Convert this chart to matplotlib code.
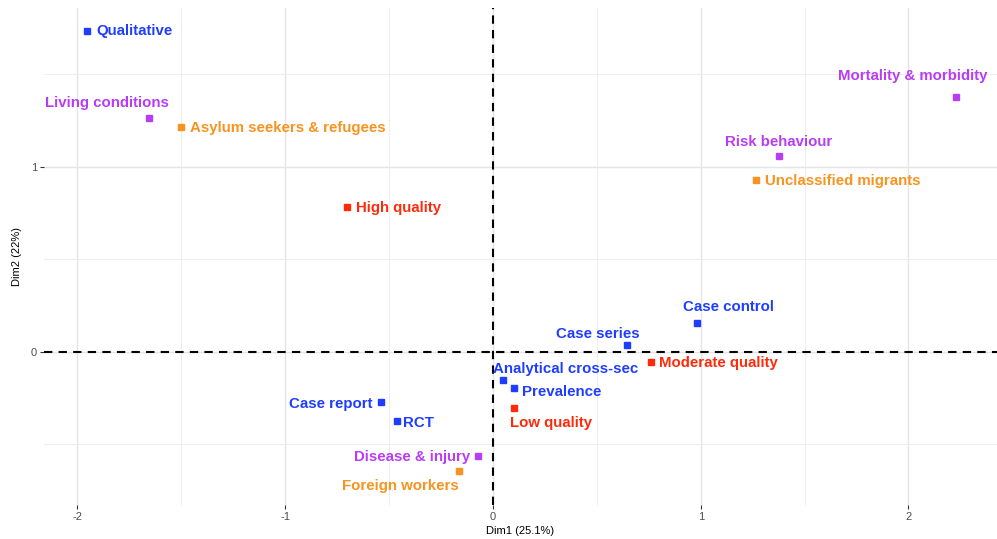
import matplotlib
matplotlib.use("Agg")
import matplotlib.pyplot as plt

plt.rcParams['font.family'] = ['Liberation Sans', 'DejaVu Sans']
plt.rcParams['axes.unicode_minus'] = False

# coordonnees (Dim1, Dim2)
labels = ["Qualitative", "Living conditions", "Asylum seekers & refugees", "High quality",
          "Mortality & morbidity", "Risk behaviour", "Unclassified migrants",
          "Case control", "Case series", "Moderate quality", "Analytical cross-sec",
          "Prevalence", "Low quality", "Case report", "RCT", "Disease & injury",
          "Foreign workers"]
dim1 = [-1.954, -1.656, -1.502, -0.703, 2.229, 1.377, 1.266, 0.982, 0.645, 0.760,
        0.048, 0.101, 0.101, -0.539, -0.462, -0.072, -0.164]
dim2 = [1.735, 1.265, 1.216, 0.784, 1.378, 1.059, 0.930, 0.157, 0.038, -0.054,
        -0.151, -0.195, -0.303, -0.270, -0.373, -0.562, -0.643]
groups = ["design", "outcome", "population", "quality", "outcome", "outcome", "population",
          "design", "design", "quality", "design", "design", "quality", "design", "design",
          "outcome", "population"]

colors = {"design": "#1f3dff", "outcome": "#b93cf5", "population": "#f7931e", "quality": "#ff2a0a"}

# decalage des etiquettes (pixels) et alignement
offsets = {
    "Qualitative": (9, 2, "left"),
    "Living conditions": (-42, 17, "center"),
    "Asylum seekers & refugees": (9, 1, "left"),
    "High quality": (9, 1, "left"),
    "Mortality & morbidity": (-43, 23, "center"),
    "Risk behaviour": (0, 16, "center"),
    "Unclassified migrants": (9, 1, "left"),
    "Case control": (32, 18, "center"),
    "Case series": (-29, 13, "center"),
    "Moderate quality": (8, 1, "left"),
    "Analytical cross-sec": (63, 13, "center"),
    "Prevalence": (8, -2, "left"),
    "Low quality": (37, -13, "center"),
    "Case report": (-8, 0, "right"),
    "RCT": (6, 0, "left"),
    "Disease & injury": (-8, 1, "right"),
    "Foreign workers": (-59, -13, "center"),
}

fig = plt.figure(figsize=(9.97, 5.39), dpi=100)
ax = fig.add_axes([44 / 997, 1 - 505 / 539, (997 - 44) / 997, (505 - 8) / 539])

ax.set_xlim(-2.161, 2.426)
ax.set_ylim(-0.827, 1.859)

ax.set_xticks([-2, -1, 0, 1, 2])
ax.set_yticks([0, 1])
ax.set_xticks([-1.5, -0.5, 0.5, 1.5], minor=True)
ax.set_yticks([-0.5, 0.5, 1.5], minor=True)
ax.grid(True, which="major", color="#e5e5e5", lw=1.0)
ax.grid(True, which="minor", color="#eeeeee", lw=0.8)
ax.set_axisbelow(True)
for s in ax.spines.values():
    s.set_visible(False)
ax.tick_params(which="major", length=3, color="#333333", labelsize=8, labelcolor="#4d4d4d", pad=2)
ax.tick_params(which="minor", length=0)

ax.axhline(0, color="black", lw=1.5, ls=(0, (4, 3)))
ax.axvline(0, color="black", lw=1.5, ls=(0, (4, 3)))

for lab, x, y, g in zip(labels, dim1, dim2, groups):
    c = colors[g]
    ax.plot(x, y, marker="s", ms=5, color=c, ls="none")
    dx, dy, ha = offsets[lab]
    ax.annotate(lab, (x, y), xytext=(dx * 0.72, (dy - 2) * 0.72), textcoords="offset points",
                ha=ha, va="center", color=c, fontsize=10.8, fontweight="bold")

ax.set_xlabel("Dim1 (25.1%)", fontsize=8, labelpad=3)
ax.set_ylabel("Dim2 (22%)", fontsize=8, labelpad=6)

fig.savefig("out.png", dpi=100)
